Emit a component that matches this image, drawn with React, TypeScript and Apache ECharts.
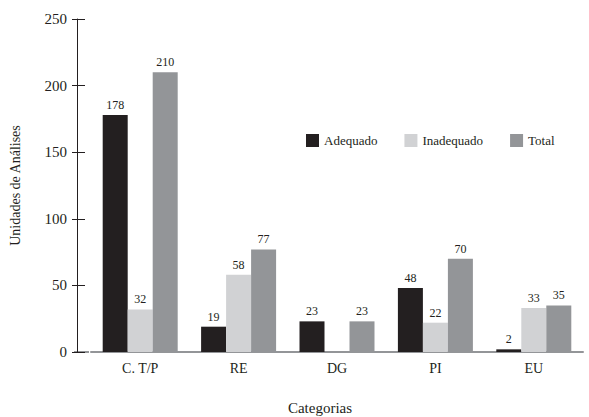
import React, { useEffect, useRef } from "react";
import * as echarts from "echarts";

const categories = ["C. T/P", "RE", "DG", "PI", "EU"];
const adequado = [178, 19, 23, 48, 2];
const inadequado: (number | null)[] = [32, 58, null, 22, 33];
const total = [210, 77, 23, 70, 35];
const yTicks = { min: 0, max: 250, interval: 50 };

const FONT = "'Liberation Serif', 'DejaVu Serif', serif";
const TXT = "#231f20";

export default function App() {
  const ref = useRef<HTMLDivElement>(null);
  useEffect(() => {
    if (!ref.current) return;
    const chart = echarts.init(ref.current, undefined, { renderer: "svg" });
    const label = {
      show: true,
      position: "top",
      distance: 4,
      color: TXT,
      fontFamily: FONT,
      fontSize: 12,
      formatter: (p: any) => (p.value == null ? "" : String(p.value)),
    };
    chart.setOption({
      animation: false,
      textStyle: { fontFamily: FONT },
      grid: { left: 88, right: 6, top: 19, bottom: 65 },
      legend: {
        left: 306,
        top: 134,
        padding: 0,
        itemWidth: 13,
        itemHeight: 13,
        itemGap: 27,
        icon: "rect",
        textStyle: { fontFamily: FONT, fontSize: 13, color: TXT },
        data: ["Adequado", "Inadequado", "Total"],
      },
      graphic: [
        {
          type: "text",
          x: 320,
          y: 408,
          style: {
            text: "Categorias",
            font: `15px ${FONT}`,
            fill: TXT,
            textAlign: "center",
            textVerticalAlign: "middle",
          },
        },
        {
          type: "line",
          shape: { x1: 74, y1: 352, x2: 89, y2: 352 },
          style: { stroke: "#939598", lineWidth: 2 },
        },
      ],
      xAxis: {
        type: "category",
        data: categories,
        axisLine: { lineStyle: { color: "#939598", width: 2 } },
        axisTick: { show: false },
        axisLabel: { color: TXT, fontFamily: FONT, fontSize: 14, margin: 9 },
      },
      yAxis: [
        {
          type: "value",
          ...yTicks,
          offset: 14,
          name: "Unidades de Análises",
          nameLocation: "middle",
          nameGap: 55,
          nameTextStyle: { color: TXT, fontFamily: FONT, fontSize: 14 },
          axisLine: { show: true, lineStyle: { color: TXT, width: 1 } },
          axisTick: { show: true, inside: true, length: 8, lineStyle: { color: TXT } },
          axisLabel: { color: TXT, fontFamily: FONT, fontSize: 15, margin: 10 },
          splitLine: { show: false },
        },
        {
          type: "value",
          ...yTicks,
          offset: 14,
          position: "left",
          axisLine: { show: false },
          axisTick: { show: true, inside: false, length: 5, lineStyle: { color: TXT } },
          axisLabel: { show: false },
          splitLine: { show: false },
        },
      ],
      series: [
        {
          name: "Adequado",
          type: "bar",
          data: adequado,
          barWidth: 25,
          barGap: "0%",
          itemStyle: { color: "#231f20" },
          label,
        },
        {
          name: "Inadequado",
          type: "bar",
          data: inadequado,
          barWidth: 25,
          barGap: "0%",
          itemStyle: { color: "#d1d2d4" },
          label,
        },
        {
          name: "Total",
          type: "bar",
          data: total,
          barWidth: 25,
          barGap: "0%",
          itemStyle: { color: "#939598" },
          label,
        },
      ],
    });
    return () => chart.dispose();
  }, []);
  return <div ref={ref} style={{ width: 589, height: 417, position: "absolute", left: 0, top: 0 }} />;
}
